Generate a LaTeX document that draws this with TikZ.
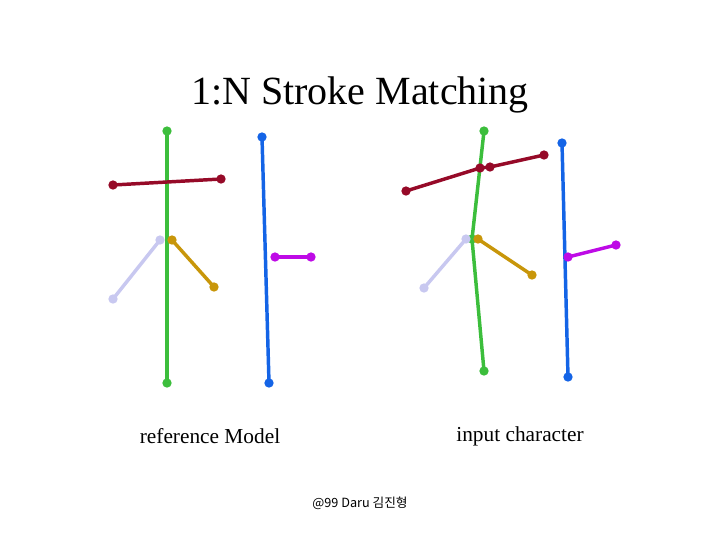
\documentclass[tikz,border=0pt]{standalone}
\usepackage{fontspec}
\setmainfont{Liberation Serif}
\newfontfamily\krfont{Noto Sans CJK KR}
\usepackage{tikz}
\definecolor{strokered}{RGB}{150, 10, 40}
\definecolor{strokegreen}{RGB}{60, 190, 60}
\definecolor{strokeblue}{RGB}{20, 100, 230}
\definecolor{strokelav}{RGB}{200, 200, 240}
\definecolor{strokegold}{RGB}{200, 150, 10}
\definecolor{strokemag}{RGB}{190, 10, 230}

\begin{document}
\begin{tikzpicture}[
  x=0.75pt, y=-0.75pt,
  stroke/.style={line width=2.6pt},
  pt/.style={circle, inner sep=0pt, minimum size=7pt},
  label/.style={font=\fontsize{16}{18}\selectfont}
]
\useasboundingbox (0,0) rectangle (720,540);

\node[font=\fontsize{30}{34}\selectfont] (title) at (360,95) {1:N Stroke Matching};

% reference model
\coordinate (g1) at (167,131); \coordinate (g2) at (167,383);
\coordinate (r1) at (113,185); \coordinate (r2) at (221,179);
\coordinate (l1) at (113,299); \coordinate (l2) at (160,240);
\coordinate (o1) at (172,240); \coordinate (o2) at (214,287);
\coordinate (b1) at (262,137); \coordinate (b2) at (269,383);
\coordinate (m1) at (275,257); \coordinate (m2) at (311,257);

\draw[stroke, strokegreen] (g1) -- (g2);
\draw[stroke, strokered] (r1) -- (r2);
\draw[stroke, strokelav] (l1) -- (l2);
\draw[stroke, strokegold] (o1) -- (o2);
\draw[stroke, strokeblue] (b1) -- (b2);
\draw[stroke, strokemag] (m1) -- (m2);
\foreach \p/\c in {g1/strokegreen, g2/strokegreen, r1/strokered, r2/strokered,
  l1/strokelav, l2/strokelav, o1/strokegold, o2/strokegold,
  b1/strokeblue, b2/strokeblue, m1/strokemag, m2/strokemag}
  \node[pt, fill=\c] at (\p) {};

% input character
\coordinate (ir1) at (406,191); \coordinate (ir2) at (480,168);
\coordinate (ir3) at (490,167); \coordinate (ir4) at (544,155);
\coordinate (ig1) at (484,131); \coordinate (ig2) at (472,239);
\coordinate (ig3) at (484,371);
\coordinate (il1) at (424,288); \coordinate (il2) at (466,239);
\coordinate (io1) at (478,239); \coordinate (io2) at (532,275);
\coordinate (ib1) at (562,143); \coordinate (ib2) at (568,377);
\coordinate (im1) at (568,257); \coordinate (im2) at (616,245);

\draw[stroke, strokered] (ir1) -- (ir2) -- (ir3) -- (ir4);
\draw[stroke, strokegreen] (ig1) -- (ig2) -- (ig3);
\draw[stroke, strokelav] (il1) -- (il2);
\draw[stroke, strokegold] (io1) -- (io2);
\draw[stroke, strokeblue] (ib1) -- (ib2);
\draw[stroke, strokemag] (im1) -- (im2);
\foreach \p/\c in {ir1/strokered, ir2/strokered, ir3/strokered, ir4/strokered,
  ig1/strokegreen, ig2/strokegreen, ig3/strokegreen,
  il1/strokelav, il2/strokelav, io1/strokegold, io2/strokegold,
  ib1/strokeblue, ib2/strokeblue, im1/strokemag, im2/strokemag}
  \node[pt, fill=\c] at (\p) {};

\node[label] (ref) at (210,436) {reference Model};
\node[label] (inp) at (520,436) {input character};
\node[font=\krfont\fontsize{9.5}{11}\selectfont] (credit) at (360,503) {@99 Daru 김진형};
\end{tikzpicture}
\end{document}
